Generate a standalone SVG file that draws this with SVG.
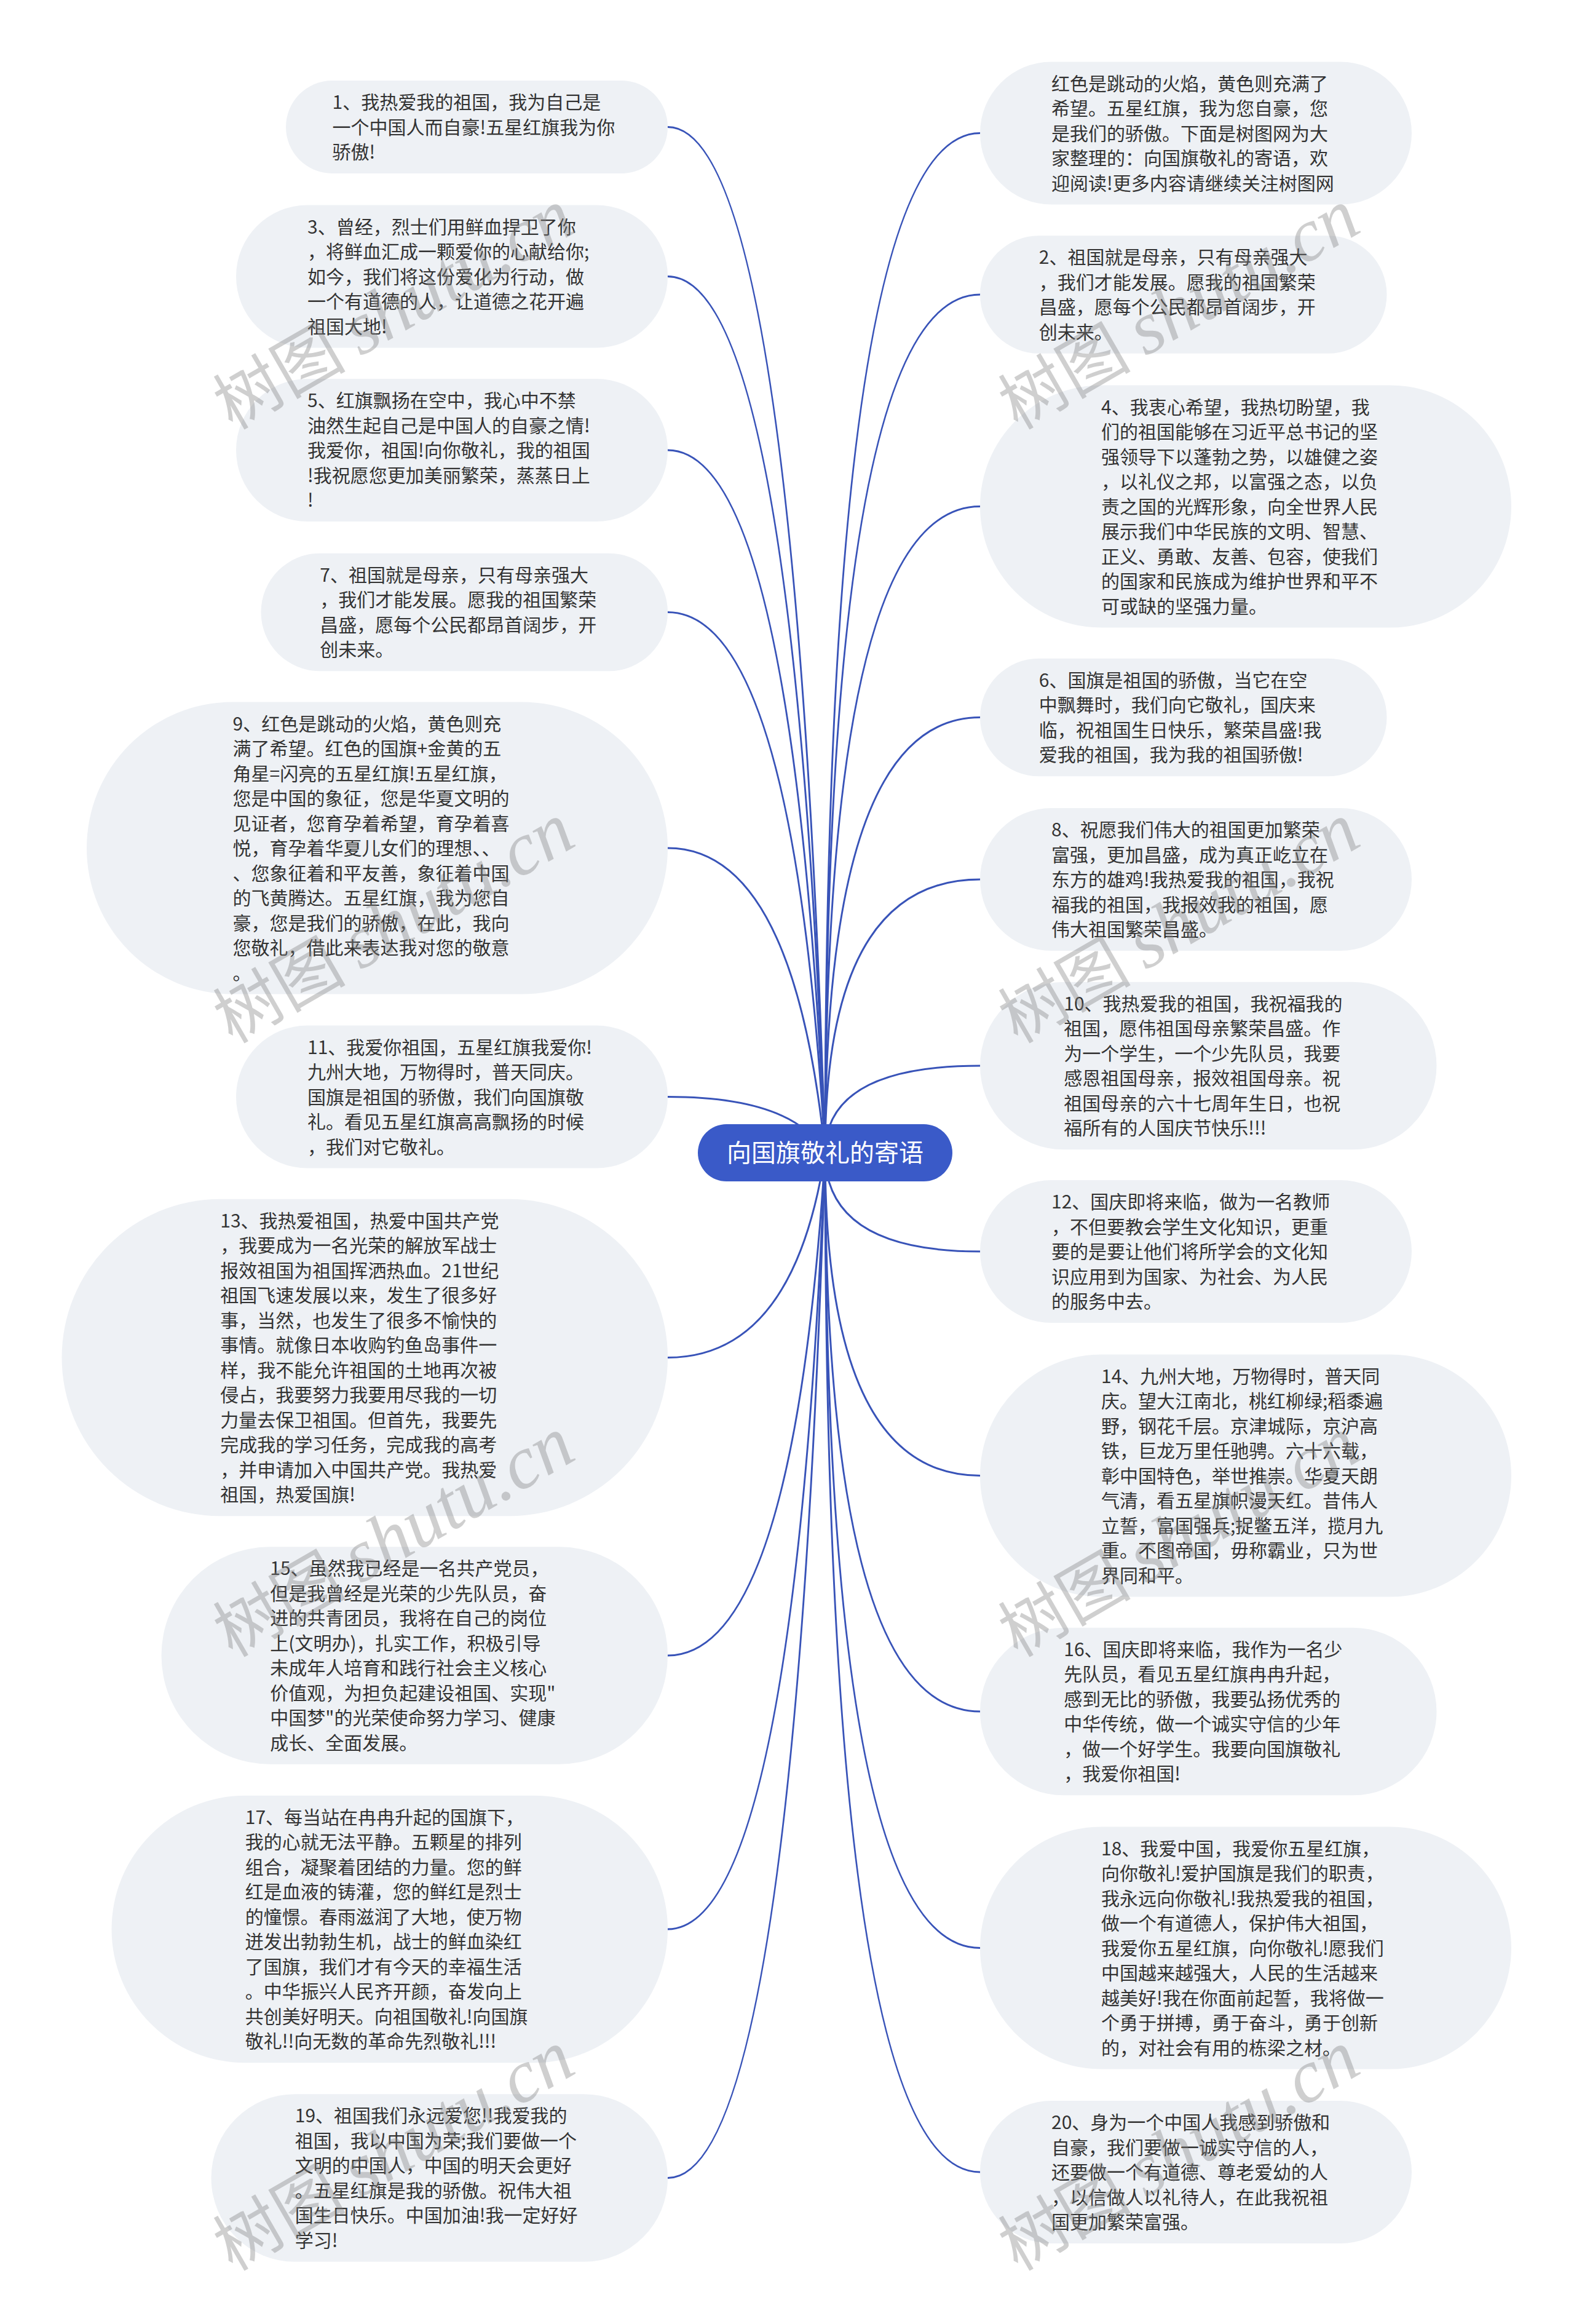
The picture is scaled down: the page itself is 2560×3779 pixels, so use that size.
<svg xmlns="http://www.w3.org/2000/svg" width="2560" height="3779" viewBox="0 0 2560 3779">
<style>
.bg{fill:#ffffff}
.node rect{fill:#EEF1F5}
.node text{font-family:"Noto Sans CJK SC","Noto Sans",sans-serif;font-size:30px;fill:#333333}
.link{fill:none;stroke:#3853B8;stroke-width:3}
.root rect{fill:#3A5AC8}
.root text{font-family:"Noto Sans CJK SC","Noto Sans",sans-serif;font-size:40px;fill:#ffffff;text-anchor:middle}
.wm{font-size:115px;fill:#808080;fill-opacity:0.38}
.wm .cjk{font-family:"Noto Sans CJK SC",sans-serif;font-size:108px}
.wm .lat{font-family:"Liberation Serif",serif;font-style:italic;font-size:122px}
</style>
<rect class="bg" x="0" y="0" width="2560" height="3779"/>
<g id="connectors">
<path class="link" d="M1342 1875 Q1291 206.5 1086 206.5"/>
<path class="link" d="M1342 1875 Q1291 449.5 1086 449.5"/>
<path class="link" d="M1342 1875 Q1291 732 1086 732"/>
<path class="link" d="M1342 1875 Q1291 995.5 1086 995.5"/>
<path class="link" d="M1342 1875 Q1291 1379 1086 1379"/>
<path class="link" d="M1342 1875 Q1291 1783.5 1086 1783.5"/>
<path class="link" d="M1342 1875 Q1291 2207.5 1086 2207.5"/>
<path class="link" d="M1342 1875 Q1291 2692 1086 2692"/>
<path class="link" d="M1342 1875 Q1291 3137 1086 3137"/>
<path class="link" d="M1342 1875 Q1291 3541.5 1086 3541.5"/>
<path class="link" d="M1342 1875 Q1342 216.5 1594 216.5"/>
<path class="link" d="M1342 1875 Q1342 479 1594 479"/>
<path class="link" d="M1342 1875 Q1342 823.5 1594 823.5"/>
<path class="link" d="M1342 1875 Q1342 1166.5 1594 1166.5"/>
<path class="link" d="M1342 1875 Q1342 1430 1594 1430"/>
<path class="link" d="M1342 1875 Q1342 1733 1594 1733"/>
<path class="link" d="M1342 1875 Q1342 2035 1594 2035"/>
<path class="link" d="M1342 1875 Q1342 2399.5 1594 2399.5"/>
<path class="link" d="M1342 1875 Q1342 2783 1594 2783"/>
<path class="link" d="M1342 1875 Q1342 3167.5 1594 3167.5"/>
<path class="link" d="M1342 1875 Q1342 3532 1594 3532"/>
</g>
<g id="root" class="root">
<rect x="1135" y="1828" width="414" height="93" rx="46.5"/>
<text x="1342" y="1889">向国旗敬礼的寄语</text>
</g>
<g id="n1" class="node">
<rect x="465" y="131" width="621" height="151" rx="75.5"/>
<text y="177"><tspan x="540.5">1、我热爱我的祖国，我为自己是</tspan><tspan x="540.5" dy="40.5">一个中国人而自豪!五星红旗我为你</tspan><tspan x="540.5" dy="40.5">骄傲!</tspan></text>
</g>
<g id="n3" class="node">
<rect x="384" y="333.5" width="702" height="232" rx="116"/>
<text y="379.5"><tspan x="500">3、曾经，烈士们用鲜血捍卫了你</tspan><tspan x="500" dy="40.5">，将鲜血汇成一颗爱你的心献给你;</tspan><tspan x="500" dy="40.5">如今，我们将这份爱化为行动，做</tspan><tspan x="500" dy="40.5">一个有道德的人，让道德之花开遍</tspan><tspan x="500" dy="40.5">祖国大地!</tspan></text>
</g>
<g id="n5" class="node">
<rect x="384" y="616" width="702" height="232" rx="116"/>
<text y="662"><tspan x="500">5、红旗飘扬在空中，我心中不禁</tspan><tspan x="500" dy="40.5">油然生起自己是中国人的自豪之情!</tspan><tspan x="500" dy="40.5">我爱你，祖国!向你敬礼，我的祖国</tspan><tspan x="500" dy="40.5">!我祝愿您更加美丽繁荣，蒸蒸日上</tspan><tspan x="500" dy="40.5">!</tspan></text>
</g>
<g id="n7" class="node">
<rect x="424.5" y="899.75" width="661.5" height="191.5" rx="95.75"/>
<text y="945.75"><tspan x="520.25">7、祖国就是母亲，只有母亲强大</tspan><tspan x="520.25" dy="40.5">，我们才能发展。愿我的祖国繁荣</tspan><tspan x="520.25" dy="40.5">昌盛，愿每个公民都昂首阔步，开</tspan><tspan x="520.25" dy="40.5">创未来。</tspan></text>
</g>
<g id="n9" class="node">
<rect x="141" y="1141.5" width="945" height="475" rx="237.5"/>
<text y="1187.5"><tspan x="378.5">9、红色是跳动的火焰，黄色则充</tspan><tspan x="378.5" dy="40.5">满了希望。红色的国旗+金黄的五</tspan><tspan x="378.5" dy="40.5">角星=闪亮的五星红旗!五星红旗，</tspan><tspan x="378.5" dy="40.5">您是中国的象征，您是华夏文明的</tspan><tspan x="378.5" dy="40.5">见证者，您育孕着希望，育孕着喜</tspan><tspan x="378.5" dy="40.5">悦，育孕着华夏儿女们的理想、、</tspan><tspan x="378.5" dy="40.5">、您象征着和平友善，象征着中国</tspan><tspan x="378.5" dy="40.5">的飞黄腾达。五星红旗，我为您自</tspan><tspan x="378.5" dy="40.5">豪，您是我们的骄傲，在此，我向</tspan><tspan x="378.5" dy="40.5">您敬礼，借此来表达我对您的敬意</tspan><tspan x="378.5" dy="40.5">。</tspan></text>
</g>
<g id="n11" class="node">
<rect x="384" y="1667.5" width="702" height="232" rx="116"/>
<text y="1713.5"><tspan x="500">11、我爱你祖国，五星红旗我爱你!</tspan><tspan x="500" dy="40.5">九州大地，万物得时，普天同庆。</tspan><tspan x="500" dy="40.5">国旗是祖国的骄傲，我们向国旗敬</tspan><tspan x="500" dy="40.5">礼。看见五星红旗高高飘扬的时候</tspan><tspan x="500" dy="40.5">，我们对它敬礼。</tspan></text>
</g>
<g id="n13" class="node">
<rect x="100.5" y="1949.75" width="985.5" height="515.5" rx="257.75"/>
<text y="1995.75"><tspan x="358.25">13、我热爱祖国，热爱中国共产党</tspan><tspan x="358.25" dy="40.5">，我要成为一名光荣的解放军战士</tspan><tspan x="358.25" dy="40.5">报效祖国为祖国挥洒热血。21世纪</tspan><tspan x="358.25" dy="40.5">祖国飞速发展以来，发生了很多好</tspan><tspan x="358.25" dy="40.5">事，当然，也发生了很多不愉快的</tspan><tspan x="358.25" dy="40.5">事情。就像日本收购钓鱼岛事件一</tspan><tspan x="358.25" dy="40.5">样，我不能允许祖国的土地再次被</tspan><tspan x="358.25" dy="40.5">侵占，我要努力我要用尽我的一切</tspan><tspan x="358.25" dy="40.5">力量去保卫祖国。但首先，我要先</tspan><tspan x="358.25" dy="40.5">完成我的学习任务，完成我的高考</tspan><tspan x="358.25" dy="40.5">，并申请加入中国共产党。我热爱</tspan><tspan x="358.25" dy="40.5">祖国，热爱国旗!</tspan></text>
</g>
<g id="n15" class="node">
<rect x="262.5" y="2515.25" width="823.5" height="353.5" rx="176.75"/>
<text y="2561.25"><tspan x="439.25">15、虽然我已经是一名共产党员，</tspan><tspan x="439.25" dy="40.5">但是我曾经是光荣的少先队员，奋</tspan><tspan x="439.25" dy="40.5">进的共青团员，我将在自己的岗位</tspan><tspan x="439.25" dy="40.5">上(文明办)，扎实工作，积极引导</tspan><tspan x="439.25" dy="40.5">未成年人培育和践行社会主义核心</tspan><tspan x="439.25" dy="40.5">价值观，为担负起建设祖国、实现"</tspan><tspan x="439.25" dy="40.5">中国梦"的光荣使命努力学习、健康</tspan><tspan x="439.25" dy="40.5">成长、全面发展。</tspan></text>
</g>
<g id="n17" class="node">
<rect x="181.5" y="2919.75" width="904.5" height="434.5" rx="217.25"/>
<text y="2965.75"><tspan x="398.75">17、每当站在冉冉升起的国旗下，</tspan><tspan x="398.75" dy="40.5">我的心就无法平静。五颗星的排列</tspan><tspan x="398.75" dy="40.5">组合，凝聚着团结的力量。您的鲜</tspan><tspan x="398.75" dy="40.5">红是血液的铸灌，您的鲜红是烈士</tspan><tspan x="398.75" dy="40.5">的憧憬。春雨滋润了大地，使万物</tspan><tspan x="398.75" dy="40.5">迸发出勃勃生机，战士的鲜血染红</tspan><tspan x="398.75" dy="40.5">了国旗，我们才有今天的幸福生活</tspan><tspan x="398.75" dy="40.5">。中华振兴人民齐开颜，奋发向上</tspan><tspan x="398.75" dy="40.5">共创美好明天。向祖国敬礼!向国旗</tspan><tspan x="398.75" dy="40.5">敬礼!!向无数的革命先烈敬礼!!!</tspan></text>
</g>
<g id="n19" class="node">
<rect x="343.5" y="3405.25" width="742.5" height="272.5" rx="136.25"/>
<text y="3451.25"><tspan x="479.75">19、祖国我们永远爱您!!我爱我的</tspan><tspan x="479.75" dy="40.5">祖国，我以中国为荣;我们要做一个</tspan><tspan x="479.75" dy="40.5">文明的中国人，中国的明天会更好</tspan><tspan x="479.75" dy="40.5">。五星红旗是我的骄傲。祝伟大祖</tspan><tspan x="479.75" dy="40.5">国生日快乐。中国加油!我一定好好</tspan><tspan x="479.75" dy="40.5">学习!</tspan></text>
</g>
<g id="n0" class="node">
<rect x="1594" y="100.5" width="702" height="232" rx="116"/>
<text y="146.5"><tspan x="1710">红色是跳动的火焰，黄色则充满了</tspan><tspan x="1710" dy="40.5">希望。五星红旗，我为您自豪，您</tspan><tspan x="1710" dy="40.5">是我们的骄傲。下面是树图网为大</tspan><tspan x="1710" dy="40.5">家整理的：向国旗敬礼的寄语，欢</tspan><tspan x="1710" dy="40.5">迎阅读!更多内容请继续关注树图网</tspan></text>
</g>
<g id="n2" class="node">
<rect x="1594" y="383.25" width="661.5" height="191.5" rx="95.75"/>
<text y="429.25"><tspan x="1689.75">2、祖国就是母亲，只有母亲强大</tspan><tspan x="1689.75" dy="40.5">，我们才能发展。愿我的祖国繁荣</tspan><tspan x="1689.75" dy="40.5">昌盛，愿每个公民都昂首阔步，开</tspan><tspan x="1689.75" dy="40.5">创未来。</tspan></text>
</g>
<g id="n4" class="node">
<rect x="1594" y="626.5" width="864" height="394" rx="197"/>
<text y="672.5"><tspan x="1791">4、我衷心希望，我热切盼望，我</tspan><tspan x="1791" dy="40.5">们的祖国能够在习近平总书记的坚</tspan><tspan x="1791" dy="40.5">强领导下以蓬勃之势，以雄健之姿</tspan><tspan x="1791" dy="40.5">，以礼仪之邦，以富强之态，以负</tspan><tspan x="1791" dy="40.5">责之国的光辉形象，向全世界人民</tspan><tspan x="1791" dy="40.5">展示我们中华民族的文明、智慧、</tspan><tspan x="1791" dy="40.5">正义、勇敢、友善、包容，使我们</tspan><tspan x="1791" dy="40.5">的国家和民族成为维护世界和平不</tspan><tspan x="1791" dy="40.5">可或缺的坚强力量。</tspan></text>
</g>
<g id="n6" class="node">
<rect x="1594" y="1070.75" width="661.5" height="191.5" rx="95.75"/>
<text y="1116.75"><tspan x="1689.75">6、国旗是祖国的骄傲，当它在空</tspan><tspan x="1689.75" dy="40.5">中飘舞时，我们向它敬礼，国庆来</tspan><tspan x="1689.75" dy="40.5">临，祝祖国生日快乐，繁荣昌盛!我</tspan><tspan x="1689.75" dy="40.5">爱我的祖国，我为我的祖国骄傲!</tspan></text>
</g>
<g id="n8" class="node">
<rect x="1594" y="1314" width="702" height="232" rx="116"/>
<text y="1360"><tspan x="1710">8、祝愿我们伟大的祖国更加繁荣</tspan><tspan x="1710" dy="40.5">富强，更加昌盛，成为真正屹立在</tspan><tspan x="1710" dy="40.5">东方的雄鸡!我热爱我的祖国，我祝</tspan><tspan x="1710" dy="40.5">福我的祖国，我报效我的祖国，愿</tspan><tspan x="1710" dy="40.5">伟大祖国繁荣昌盛。</tspan></text>
</g>
<g id="n10" class="node">
<rect x="1594" y="1596.75" width="742.5" height="272.5" rx="136.25"/>
<text y="1642.75"><tspan x="1730.25">10、我热爱我的祖国，我祝福我的</tspan><tspan x="1730.25" dy="40.5">祖国，愿伟祖国母亲繁荣昌盛。作</tspan><tspan x="1730.25" dy="40.5">为一个学生，一个少先队员，我要</tspan><tspan x="1730.25" dy="40.5">感恩祖国母亲，报效祖国母亲。祝</tspan><tspan x="1730.25" dy="40.5">祖国母亲的六十七周年生日，也祝</tspan><tspan x="1730.25" dy="40.5">福所有的人国庆节快乐!!!</tspan></text>
</g>
<g id="n12" class="node">
<rect x="1594" y="1919" width="702" height="232" rx="116"/>
<text y="1965"><tspan x="1710">12、国庆即将来临，做为一名教师</tspan><tspan x="1710" dy="40.5">，不但要教会学生文化知识，更重</tspan><tspan x="1710" dy="40.5">要的是要让他们将所学会的文化知</tspan><tspan x="1710" dy="40.5">识应用到为国家、为社会、为人民</tspan><tspan x="1710" dy="40.5">的服务中去。</tspan></text>
</g>
<g id="n14" class="node">
<rect x="1594" y="2202.5" width="864" height="394" rx="197"/>
<text y="2248.5"><tspan x="1791">14、九州大地，万物得时，普天同</tspan><tspan x="1791" dy="40.5">庆。望大江南北，桃红柳绿;稻黍遍</tspan><tspan x="1791" dy="40.5">野，钢花千层。京津城际，京沪高</tspan><tspan x="1791" dy="40.5">铁，巨龙万里任驰骋。六十六载，</tspan><tspan x="1791" dy="40.5">彰中国特色，举世推崇。华夏天朗</tspan><tspan x="1791" dy="40.5">气清，看五星旗帜漫天红。昔伟人</tspan><tspan x="1791" dy="40.5">立誓，富国强兵;捉鳖五洋，揽月九</tspan><tspan x="1791" dy="40.5">重。不图帝国，毋称霸业，只为世</tspan><tspan x="1791" dy="40.5">界同和平。</tspan></text>
</g>
<g id="n16" class="node">
<rect x="1594" y="2646.75" width="742.5" height="272.5" rx="136.25"/>
<text y="2692.75"><tspan x="1730.25">16、国庆即将来临，我作为一名少</tspan><tspan x="1730.25" dy="40.5">先队员，看见五星红旗冉冉升起，</tspan><tspan x="1730.25" dy="40.5">感到无比的骄傲，我要弘扬优秀的</tspan><tspan x="1730.25" dy="40.5">中华传统，做一个诚实守信的少年</tspan><tspan x="1730.25" dy="40.5">，做一个好学生。我要向国旗敬礼</tspan><tspan x="1730.25" dy="40.5">，我爱你祖国!</tspan></text>
</g>
<g id="n18" class="node">
<rect x="1594" y="2970.5" width="864" height="394" rx="197"/>
<text y="3016.5"><tspan x="1791">18、我爱中国，我爱你五星红旗，</tspan><tspan x="1791" dy="40.5">向你敬礼!爱护国旗是我们的职责，</tspan><tspan x="1791" dy="40.5">我永远向你敬礼!我热爱我的祖国，</tspan><tspan x="1791" dy="40.5">做一个有道德人，保护伟大祖国，</tspan><tspan x="1791" dy="40.5">我爱你五星红旗，向你敬礼!愿我们</tspan><tspan x="1791" dy="40.5">中国越来越强大，人民的生活越来</tspan><tspan x="1791" dy="40.5">越美好!我在你面前起誓，我将做一</tspan><tspan x="1791" dy="40.5">个勇于拼搏，勇于奋斗，勇于创新</tspan><tspan x="1791" dy="40.5">的，对社会有用的栋梁之材。</tspan></text>
</g>
<g id="n20" class="node">
<rect x="1594" y="3416" width="702" height="232" rx="116"/>
<text y="3462"><tspan x="1710">20、身为一个中国人我感到骄傲和</tspan><tspan x="1710" dy="40.5">自豪，我们要做一诚实守信的人，</tspan><tspan x="1710" dy="40.5">还要做一个有道德、尊老爱幼的人</tspan><tspan x="1710" dy="40.5">，以信做人以礼待人，在此我祝祖</tspan><tspan x="1710" dy="40.5">国更加繁荣富强。</tspan></text>
</g>
<g id="watermarks" class="wm">
<text transform="translate(378 700) rotate(-30)"><tspan class="cjk">树图 </tspan><tspan class="lat">shutu.cn</tspan></text>
<text transform="translate(1655 700) rotate(-30)"><tspan class="cjk">树图 </tspan><tspan class="lat">shutu.cn</tspan></text>
<text transform="translate(378 1698) rotate(-30)"><tspan class="cjk">树图 </tspan><tspan class="lat">shutu.cn</tspan></text>
<text transform="translate(1655 1698) rotate(-30)"><tspan class="cjk">树图 </tspan><tspan class="lat">shutu.cn</tspan></text>
<text transform="translate(378 2696) rotate(-30)"><tspan class="cjk">树图 </tspan><tspan class="lat">shutu.cn</tspan></text>
<text transform="translate(1655 2696) rotate(-30)"><tspan class="cjk">树图 </tspan><tspan class="lat">shutu.cn</tspan></text>
<text transform="translate(378 3694) rotate(-30)"><tspan class="cjk">树图 </tspan><tspan class="lat">shutu.cn</tspan></text>
<text transform="translate(1655 3694) rotate(-30)"><tspan class="cjk">树图 </tspan><tspan class="lat">shutu.cn</tspan></text>
</g>
</svg>
